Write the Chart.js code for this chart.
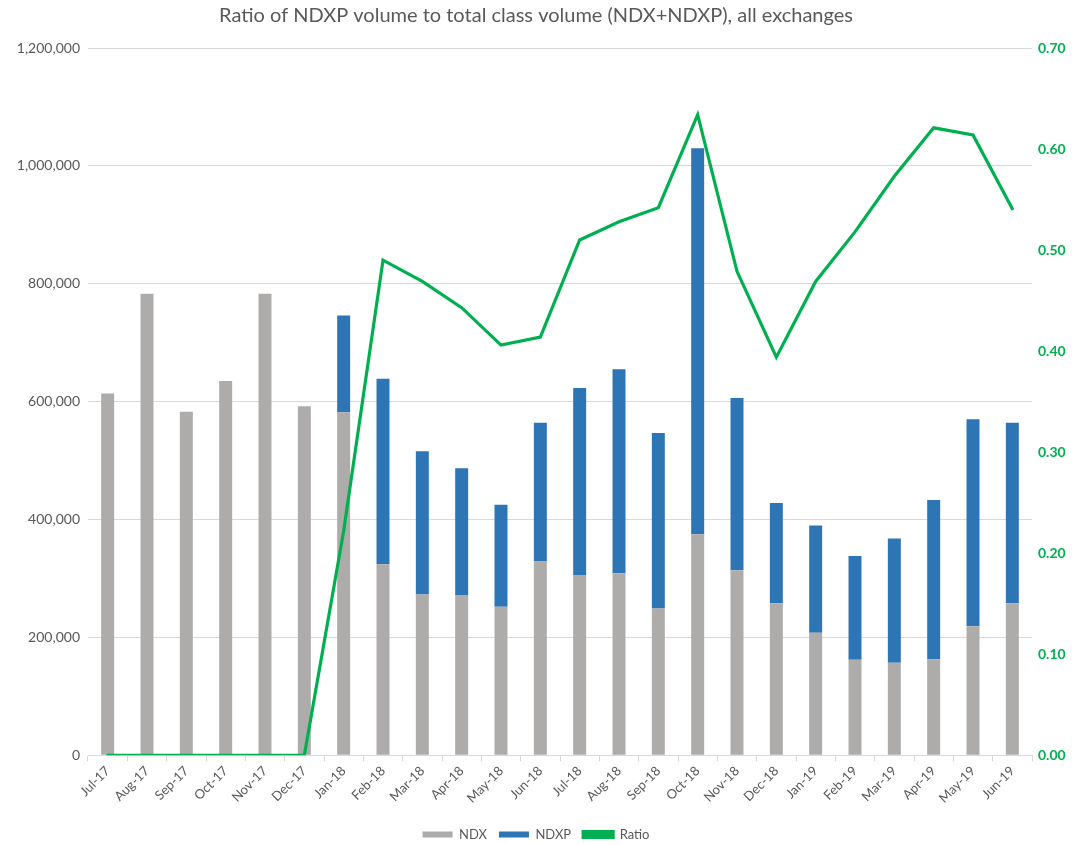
<!DOCTYPE html>
<html>
<head>
<meta charset="utf-8">
<script src="https://cdn.jsdelivr.net/npm/chart.js@4"></script>
<style>
  html, body { margin: 0; padding: 0; background: #fff; }
  #wrap { width: 1078px; height: 845px; position: relative; }
</style>
</head>
<body>
<div id="wrap"><canvas id="c" width="1078" height="845"></canvas></div>
<script>
const categories = ["Jul-17","Aug-17","Sep-17","Oct-17","Nov-17","Dec-17","Jan-18","Feb-18","Mar-18","Apr-18","May-18","Jun-18","Jul-18","Aug-18","Sep-18","Oct-18","Nov-18","Dec-18","Jan-19","Feb-19","Mar-19","Apr-19","May-19","Jun-19"];
const ndx   = [614000,783000,583000,635000,783000,592000,582000,324000,273000,272000,252000,329000,306000,309000,249000,375000,314000,258000,208000,162000,157000,163000,219000,258000];
const ndxp  = [0,0,0,0,0,0,164000,315000,243000,215000,173000,235000,317000,346000,298000,655000,292000,170000,182000,176000,211000,270000,351000,306000];
const ratio = [0,0,0,0,0,0,0.222,0.490,0.469,0.443,0.406,0.414,0.510,0.528,0.542,0.634,0.479,0.394,0.469,0.518,0.573,0.621,0.614,0.541];
const leftTicks = [0,200000,400000,600000,800000,1000000,1200000];
const rightTicks = [0,0.1,0.2,0.3,0.4,0.5,0.6,0.7];

const FONT = "Lato, 'Open Sans', sans-serif";
const TXT = "#595959";
const GREEN = "#00B050";

new Chart(document.getElementById('c'), {
  data: {
    labels: categories,
    datasets: [
      { type: 'bar', label: 'NDX', data: ndx, backgroundColor: '#AEABAB', yAxisID: 'y', stack: 's', order: 2,
        barPercentage: 1, categoryPercentage: 0.33 },
      { type: 'bar', label: 'NDXP', data: ndxp, backgroundColor: '#2E75B6', yAxisID: 'y', stack: 's', order: 2,
        barPercentage: 1, categoryPercentage: 0.33 },
      { type: 'line', label: 'Ratio', data: ratio, borderColor: GREEN, backgroundColor: GREEN, borderWidth: 3.2,
        pointRadius: 0, tension: 0, yAxisID: 'y1', order: 0, borderCapStyle: 'round', borderJoinStyle: 'miter' }
    ]
  },
  options: {
    responsive: false,
    animation: false,
    layout: { padding: { left: 0, right: 6, top: 4, bottom: -6 } },
    plugins: {
      title: {
        display: true,
        text: 'Ratio of NDXP volume to total class volume (NDX+NDXP), all exchanges',
        color: TXT,
        font: { family: FONT, size: 20, weight: 'normal' },
        padding: { top: 0, bottom: 20 }
      },
      legend: {
        position: 'bottom',
        labels: {
          color: TXT,
          font: { family: FONT, size: 13 },
          boxWidth: 30, boxHeight: 6,
          padding: 12,
          sort: (a, b) => a.datasetIndex - b.datasetIndex
        }
      },
      tooltip: { enabled: false }
    },
    scales: {
      x: {
        stacked: true,
        grid: { display: true, drawOnChartArea: false, drawTicks: true, tickLength: 6, color: '#D9D9D9', offset: true },
        border: { display: true, color: '#D9D9D9' },
        ticks: { color: TXT, font: { family: FONT, size: 13 }, maxRotation: 45, minRotation: 45, autoSkip: false, padding: 2 },
        afterFit: (s) => { s.height = s.height + 8; }
      },
      y: {
        position: 'left',
        stacked: true,
        min: 0, max: 1200000,
        afterBuildTicks: (s) => { s.ticks = leftTicks.map(v => ({ value: v })); },
        afterFit: (s) => { s.width = 88; },
        grid: { color: '#D9D9D9', drawTicks: false },
        border: { display: false },
        ticks: { color: TXT, font: { family: FONT, size: 14 }, padding: 8,
          callback: (v) => Number(v).toLocaleString('en-US') }
      },
      y1: {
        position: 'right',
        min: 0, max: 0.7,
        afterBuildTicks: (s) => { s.ticks = rightTicks.map(v => ({ value: v })); },
        afterFit: (s) => { s.width = 40; },
        grid: { display: false, drawTicks: false },
        border: { display: false },
        ticks: { color: GREEN, font: { family: FONT, size: 14, weight: 'bold' }, padding: 6,
          callback: (v) => Number(v).toFixed(2) }
      }
    }
  }
});
</script>
</body>
</html>
